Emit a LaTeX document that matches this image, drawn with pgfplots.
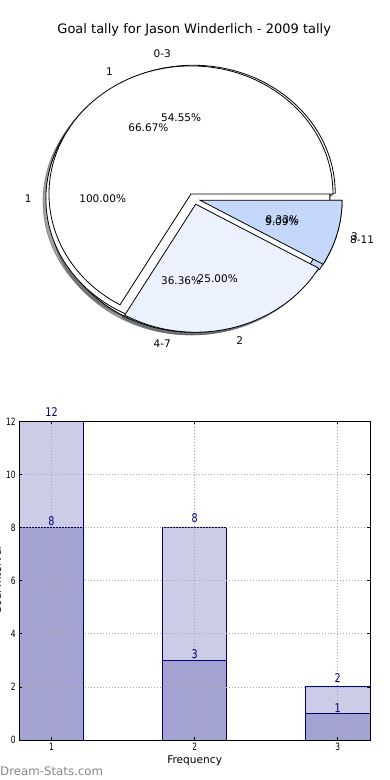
\documentclass[border=0pt]{standalone}
\usepackage{pgfplots}
\pgfplotsset{compat=1.18}
\usepackage{fontspec}
\setmainfont{DejaVu Sans}
\usepackage{graphicx}

\definecolor{sliceone}{HTML}{FFFFFF}
\definecolor{slicetwo}{HTML}{EBF1FD}
\definecolor{slicethree}{HTML}{C5D8FC}
\definecolor{barlight}{HTML}{CCCCE6}
\definecolor{bardark}{HTML}{A3A3D1}
\definecolor{navyc}{HTML}{000080}
\definecolor{wmark}{HTML}{878787}

\newcommand\pieexpl{0.0437}
\newcommand\pielabfont{\fontsize{10.5}{12}\selectfont}

% #1 cumulative value before the slice, #2 slice value, #3 pie total
\newcommand{\pieangles}[3]{%
  \pgfmathsetmacro\psa{360*#1/#3}%
  \pgfmathsetmacro\pea{360*(#1+#2)/#3}%
  \pgfmathsetmacro\pma{(\psa+\pea)/2}%
  \pgfmathsetmacro\pcx{\pieexpl*cos(\pma)}%
  \pgfmathsetmacro\pcy{\pieexpl*sin(\pma)}%
  \pgfmathtruncatemacro\pfull{(#2==#3) ? 1 : 0}%
}
\newcommand{\piepath}[3]{%
  \pgfmathsetmacro\qx{\pcx+#2}%
  \pgfmathsetmacro\qy{\pcy+#3}%
  \ifnum\pfull=1
    \path[#1] (axis cs:\qx,\qy) ellipse[x radius=142pt, y radius=128pt];
  \else
    \path[#1] (axis cs:\qx,\qy) -- ++(\psa:142pt and 128pt)
      arc[start angle=\psa, end angle=\pea, x radius=142pt, y radius=128pt] -- cycle;
  \fi
}
\newcommand{\pieshadow}[4]{\pieangles{#1}{#2}{#3}%
  \piepath{fill=#4!30!black, draw=#4!30!black, opacity=0.5, line width=0.8pt}{-0.02}{-0.02}}
\newcommand{\piewedge}[4]{\pieangles{#1}{#2}{#3}%
  \piepath{fill=#4, draw=black, line width=0.8pt}{0}{0}}
\newcommand{\pielabel}[4]{\pieangles{#1}{#2}{#3}%
  \pgfmathsetmacro\lx{\pcx+1.1*cos(\pma)}%
  \pgfmathsetmacro\ly{\pcy+1.1*sin(\pma)}%
  \pgfmathsetmacro\px{\pcx+0.6*cos(\pma)}%
  \pgfmathsetmacro\py{\pcy+0.6*sin(\pma)}%
  \pgfmathsetmacro\pct{100*#2/#3}%
  \pgfmathtruncatemacro\isright{(\lx>0) ? 1 : 0}%
  \ifnum\isright=1 \def\anch{west}\else\def\anch{east}\fi
  \node[anchor=\anch, font=\pielabfont, inner sep=0pt] at (axis cs:\lx,\ly) {#4};
  \node[font=\pielabfont, inner sep=0pt] at (axis cs:\px,\py)
    {\pgfmathprintnumber[fixed,fixed zerofill,precision=2,assume math mode=true]{\pct}\%};
}

\begin{document}
\begin{tikzpicture}
% ---------------- pie chart ----------------
\begin{axis}[
  at={(0pt,420pt)}, anchor=south west, scale only axis,
  width=390pt, height=360pt,
  xmin=-1.3669, xmax=1.3796, ymin=-1.2594, ymax=1.5531,
  hide axis, clip=false]
\addplot[draw=none, mark=none] coordinates {(0,0)};
\pgfplotsextra{%
  % shadows (pie A: 0-3, 4-7, 8-11; pie C: 1; pie B: 1, 2, 3)
  \pieshadow{0}{6}{11}{sliceone}%
  \pieshadow{6}{4}{11}{slicetwo}%
  \pieshadow{10}{1}{11}{slicethree}%
  \pieshadow{0}{1}{1}{sliceone}%
  \pieshadow{0}{8}{12}{sliceone}%
  \pieshadow{8}{3}{12}{slicetwo}%
  \pieshadow{11}{1}{12}{slicethree}%
  % wedges
  \piewedge{0}{6}{11}{sliceone}%
  \piewedge{6}{4}{11}{slicetwo}%
  \piewedge{10}{1}{11}{slicethree}%
  \piewedge{0}{1}{1}{sliceone}%
  \piewedge{0}{8}{12}{sliceone}%
  \piewedge{8}{3}{12}{slicetwo}%
  \piewedge{11}{1}{12}{slicethree}%
  % labels
  \pielabel{0}{6}{11}{0-3}%
  \pielabel{6}{4}{11}{4-7}%
  \pielabel{10}{1}{11}{8-11}%
  \pielabel{0}{1}{1}{1}%
  \pielabel{0}{8}{12}{1}%
  \pielabel{8}{3}{12}{2}%
  \pielabel{11}{1}{12}{3}%
}
\end{axis}

% ---------------- bar chart ----------------
\begin{axis}[
  at={(19.3pt,40pt)}, anchor=south west, scale only axis,
  width=350.7pt, height=318.7pt,
  xmin=0.775, xmax=3.225, ymin=0, ymax=12,
  xtick={1,2,3}, ytick={0,2,4,6,8,10,12},
  grid=major,
  grid style={dash pattern=on 1pt off 2pt, gray!70, line width=0.6pt},
  axis on top,
  axis line style={line width=0.8pt},
  tick align=inside, major tick length=3pt,
  tick style={black, line width=0.6pt},
  tick label style={font=\fontsize{10}{11}\selectfont},
  xticklabel={\scalebox{0.75}[1]{\pgfmathprintnumber[assume math mode=true]{\tick}}},
  yticklabel={\scalebox{0.75}[1]{\pgfmathprintnumber[assume math mode=true]{\tick}}},
  xlabel={Frequency},
  xlabel style={font=\fontsize{10.6}{12}\selectfont, at={(axis description cs:0.5,0)}, anchor=base, yshift=-23pt},
]
\addplot[ybar, bar width=0.45, bar shift=0pt, fill=barlight, draw=navyc, line width=0.8pt,
  nodes near coords={\scalebox{0.8}[1]{\pgfmathprintnumber[assume math mode=true]{\pgfplotspointmeta}}},
  every node near coord/.append style={text=navyc, font=\fontsize{12}{13}\selectfont, anchor=south, inner sep=2pt, yshift=2pt}]
  coordinates {(1,12) (2,8) (3,2)};
\addplot[ybar, bar width=0.45, bar shift=0pt, fill=bardark, draw=navyc, line width=0.8pt,
  nodes near coords={\scalebox{0.8}[1]{\pgfmathprintnumber[assume math mode=true]{\pgfplotspointmeta}}},
  every node near coord/.append style={text=navyc, font=\fontsize{12}{13}\selectfont, anchor=south, inner sep=2pt, yshift=-1pt}]
  coordinates {(1,8) (2,3) (3,1)};
\end{axis}

% ---------------- texts ----------------
\node[font=\fontsize{13}{15}\selectfont, anchor=base] at (194.2pt,746.7pt)
  {Goal tally for Jason Winderlich - 2009 tally};
\node[font=\fontsize{10.6}{12}\selectfont, rotate=90, anchor=base, inner sep=0pt] at (1pt,199.5pt) {Goal Interval};
\node[font=\fontsize{11.8}{13}\selectfont, text=wmark, anchor=base west, inner sep=0pt] at (0pt,5pt) {Dream-Stats.com};

\pgfresetboundingbox
\path[use as bounding box] (0pt,0pt) rectangle (390pt,780pt);
\end{tikzpicture}
\end{document}
